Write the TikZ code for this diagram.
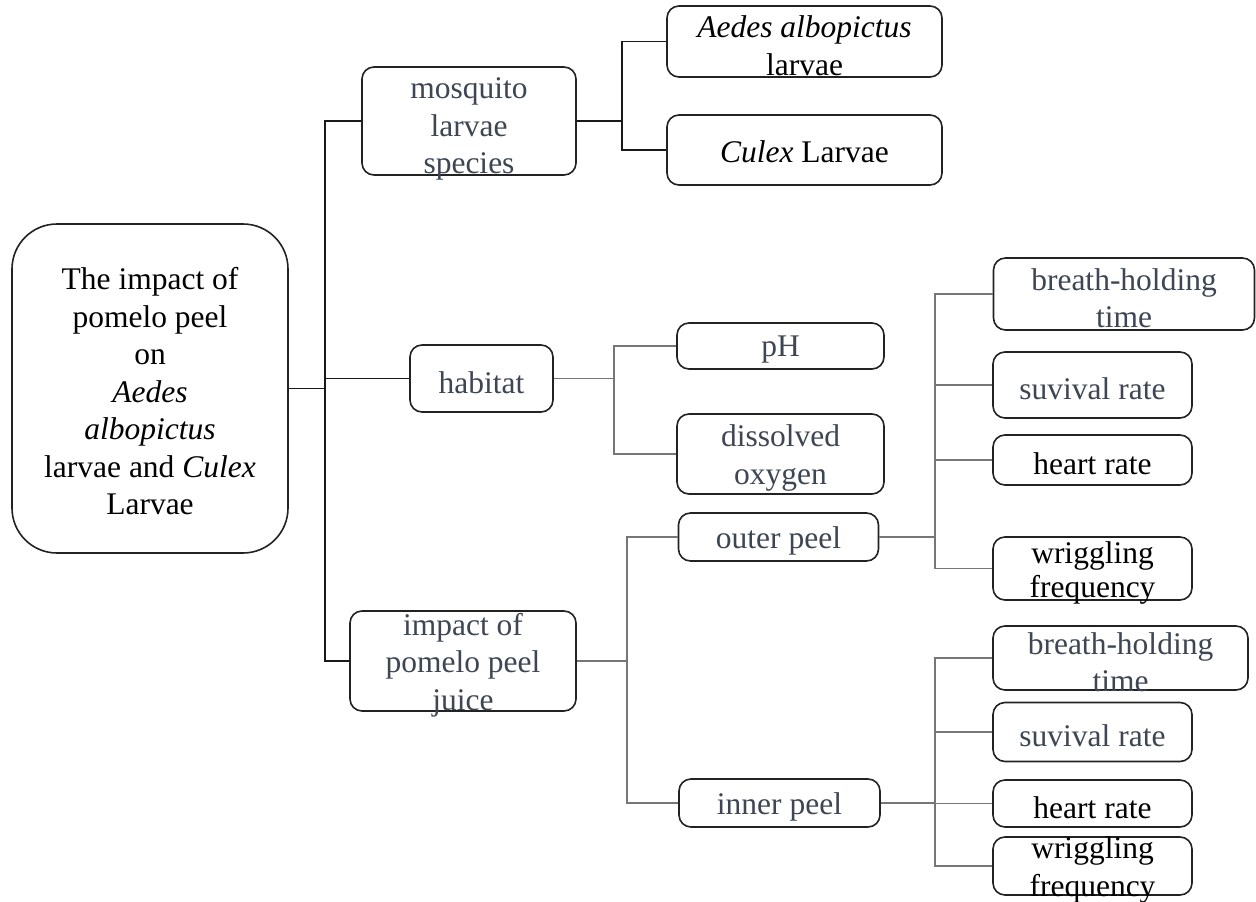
\documentclass[tikz,border=0pt]{standalone}
\usepackage{fontspec}
\setmainfont{Liberation Serif}
\definecolor{slate}{RGB}{62,70,84}
\definecolor{wire}{RGB}{118,118,118}
\definecolor{frame}{RGB}{34,34,34}

\begin{document}
\begin{tikzpicture}[x=1pt, y=-1pt,
        box/.style={draw=frame, line width=1.6pt, rounded corners=12pt, inner sep=0pt},
        txt/.style={align=center, font=\fontsize{31.5}{37.5}\selectfont, yshift=-4pt},
        dark/.style={txt, text=black},
        soft/.style={txt, text=slate},
        main wire/.style={draw=black!90, line width=1.8pt},
        thin wire/.style={draw=wire, line width=1.6pt},
        elbow/.style={to path={|- (\tikztotarget)}}]

    \path[use as bounding box, fill=white] (0,0) rectangle (1256,902);

    % Nodes
    \node[box, rounded corners=45pt, minimum width=276pt, minimum height=329pt,
        label={[dark, yshift=1pt]center:The impact of\\pomelo peel\\on\\\textit{Aedes}\\\textit{albopictus}\\larvae and \textit{Culex}\\Larvae}]
        (root) at (150,388.5) {};

    \node[box, minimum width=214pt, minimum height=108pt,
        label={[soft, yshift=-4pt]center:mosquito\\larvae\\species}] (mosq) at (469,121) {};
    \node[box, minimum width=275pt, minimum height=71pt,
        label={[dark]center:\textit{Aedes albopictus}\\larvae}] (aedes) at (804.5,41.5) {};
    \node[box, minimum width=275pt, minimum height=70pt,
        label={[dark, yshift=2pt]center:\textit{Culex} Larvae}] (culex) at (804.5,150) {};

    \node[box, minimum width=143pt, minimum height=67pt,
        label={[soft]center:habitat}] (habitat) at (481.5,378.5) {};
    \node[box, minimum width=207pt, minimum height=46pt,
        label={[soft]center:pH}] (ph) at (780.5,346) {};
    \node[box, minimum width=207pt, minimum height=80pt,
        label={[soft]center:dissolved\\oxygen}] (oxygen) at (780.5,454) {};

    \node[box, minimum width=226pt, minimum height=100pt,
        label={[soft]center:impact of\\pomelo peel\\juice}] (juice) at (463,661) {};
    \node[box, minimum width=200pt, minimum height=48pt,
        label={[soft]center:outer peel}] (outer) at (778.5,537) {};
    \node[box, minimum width=201pt, minimum height=48pt,
        label={[soft]center:inner peel}] (inner) at (779.5,803) {};

    \node[box, minimum width=261pt, minimum height=72pt,
        label={[soft]center:breath-holding\\time}] (bht1) at (1124,294) {};
    \node[box, minimum width=199pt, minimum height=66pt,
        label={[soft]center:suvival rate}] (surv1) at (1092.5,385) {};
    \node[box, minimum width=199pt, minimum height=50pt,
        label={[dark]center:heart rate}] (heart1) at (1092.5,460) {};
    \node[box, minimum width=199pt, minimum height=63pt,
        label={[dark, font=\fontsize{31.5}{34}\selectfont]center:wriggling\\frequency}] (wrig1) at (1092.5,568.5) {};

    \node[box, minimum width=255pt, minimum height=64pt,
        label={[soft]center:breath-holding\\time}] (bht2) at (1120.5,658) {};
    \node[box, minimum width=199pt, minimum height=59pt,
        label={[soft]center:suvival rate}] (surv2) at (1092.5,732) {};
    \node[box, minimum width=199pt, minimum height=47pt,
        label={[dark]center:heart rate}] (heart2) at (1092.5,803.5) {};
    \node[box, minimum width=199pt, minimum height=58pt,
        label={[dark]center:wriggling\\frequency}] (wrig2) at (1092.5,866) {};

    % Junctions
    \coordinate (trunk) at (325,388.5);
    \coordinate (jm) at (622,121);
    \coordinate (jh) at (614,378.5);
    \coordinate (jj) at (627,661);
    \coordinate (jo) at (935,537);
    \coordinate (jn) at (935,803);

    % Edges
    \draw[main wire] (root.east) -- (trunk)
        edge[elbow] (mosq.west)
        edge[elbow] (juice.west);
    \draw[main wire] (habitat.west) -| (trunk);
    \draw[main wire] (mosq.east) -- (jm)
        edge[elbow] (aedes.west)
        edge[elbow] (culex.west);

    \draw[thin wire] (habitat.east) -- (jh)
        edge[elbow] (ph.west)
        edge[elbow] (oxygen.west);
    \draw[thin wire] (juice.east) -- (jj)
        edge[elbow] (outer.west)
        edge[elbow] (inner.west);
    \draw[thin wire] (outer.east) -- (jo)
        edge[elbow] (bht1.west)
        edge[elbow] (surv1.west)
        edge[elbow] (heart1.west)
        edge[elbow] (wrig1.west);
    \draw[thin wire] (inner.east) -- (jn)
        edge[elbow] (bht2.west)
        edge[elbow] (surv2.west)
        edge[elbow] (heart2.west)
        edge[elbow] (wrig2.west);

\end{tikzpicture}
\end{document}
